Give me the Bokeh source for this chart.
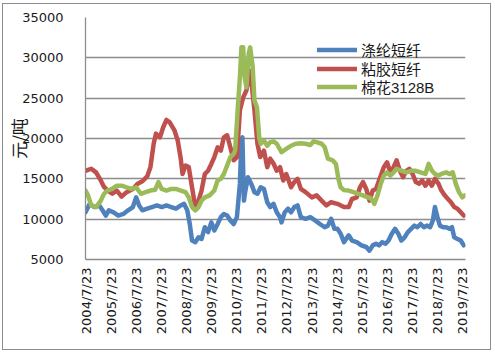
import math
from bokeh.plotting import figure
from bokeh.models import (Range1d, FixedTicker, Legend, LegendItem)
from bokeh.embed import file_html
from bokeh.resources import INLINE

# ---- data (decimal year, yuan/ton) ----
polyester_x = [2004.52, 2004.69, 2004.88, 2005.07, 2005.20, 2005.33, 2005.45, 2005.64, 2005.83, 2006.03,
               2006.22, 2006.41, 2006.54, 2006.66, 2006.79, 2006.98, 2007.17, 2007.37, 2007.56, 2007.75,
               2007.94, 2008.13, 2008.32, 2008.45, 2008.58, 2008.68, 2008.77, 2008.90, 2009.03, 2009.15,
               2009.28, 2009.41, 2009.54, 2009.66, 2009.79, 2009.92, 2010.04, 2010.17, 2010.30, 2010.43,
               2010.56, 2010.62, 2010.68, 2010.74, 2010.78, 2010.84, 2010.90, 2011.00, 2011.13, 2011.26,
               2011.38, 2011.51, 2011.64, 2011.77, 2011.89, 2012.02, 2012.15, 2012.28, 2012.34, 2012.47,
               2012.60, 2012.72, 2012.85, 2012.98, 2013.11, 2013.30, 2013.49, 2013.68, 2013.87, 2014.06,
               2014.19, 2014.32, 2014.45, 2014.57, 2014.70, 2014.83, 2015.02, 2015.15, 2015.34, 2015.53,
               2015.72, 2015.85, 2015.98, 2016.11, 2016.23, 2016.36, 2016.49, 2016.61, 2016.74, 2016.87,
               2017.00, 2017.12, 2017.25, 2017.38, 2017.51, 2017.64, 2017.76, 2017.89, 2018.02, 2018.15,
               2018.27, 2018.38, 2018.46, 2018.56, 2018.66, 2018.79, 2018.91, 2019.04, 2019.14, 2019.23,
               2019.36, 2019.49, 2019.61]
polyester_y = [10850, 11900, 11500, 11700, 11100, 10450, 11100, 10850, 10450, 10650,
               11100, 11500, 12700, 11700, 11100, 11300, 11500, 11700, 11500, 11700,
               11500, 11300, 11700, 11900, 11100, 9400, 7350, 7150, 7750, 7550,
               9000, 8400, 9600, 8600, 9400, 10250, 10650, 10450, 9850, 9400,
               10250, 12300, 14400, 19750, 20150, 12300, 13550, 15200, 14400, 13350,
               13150, 13950, 13750, 12100, 11500, 11900, 10850, 10250, 9600, 10850,
               11300, 10850, 11500, 11700, 10250, 10050, 10250, 9850, 9400, 9000,
               9200, 10050, 8800, 8800, 8200, 7150, 8000, 7350, 7150, 6750,
               6550, 6100, 6750, 6950, 6750, 7150, 6950, 7350, 8200, 8800,
               8200, 7350, 7750, 8400, 8800, 9200, 9000, 9400, 9000, 9200,
               9000, 9850, 11500, 10250, 9200, 9000, 9000, 8800, 9000, 7750,
               7550, 7350, 6750]

viscose_x = [2004.52, 2004.75, 2004.94, 2005.13, 2005.26, 2005.40, 2005.59, 2005.77, 2005.96, 2006.16,
             2006.41, 2006.60, 2006.79, 2006.98, 2007.11, 2007.24, 2007.33, 2007.49, 2007.62, 2007.75,
             2007.88, 2008.07, 2008.20, 2008.32, 2008.39, 2008.51, 2008.64, 2008.77, 2008.90, 2009.03,
             2009.15, 2009.28, 2009.41, 2009.54, 2009.66, 2009.79, 2009.92, 2010.04, 2010.17, 2010.30,
             2010.43, 2010.56, 2010.68, 2010.81, 2010.94, 2011.07, 2011.16, 2011.26, 2011.38, 2011.49,
             2011.64, 2011.77, 2011.89, 2012.02, 2012.15, 2012.28, 2012.41, 2012.53, 2012.72, 2012.85,
             2012.98, 2013.11, 2013.30, 2013.55, 2013.74, 2013.94, 2014.13, 2014.32, 2014.57, 2014.83,
             2015.02, 2015.15, 2015.34, 2015.47, 2015.59, 2015.72, 2015.85, 2015.98, 2016.11, 2016.23,
             2016.42, 2016.55, 2016.68, 2016.81, 2016.93, 2017.06, 2017.19, 2017.32, 2017.44, 2017.57,
             2017.70, 2017.83, 2017.95, 2018.08, 2018.21, 2018.34, 2018.46, 2018.60, 2018.72, 2018.85,
             2018.98, 2019.10, 2019.23, 2019.36, 2019.49, 2019.61]
viscose_y = [16000, 16250, 15800, 14800, 14000, 13550, 13150, 13550, 12800, 13350,
             13750, 14400, 14700, 15300, 16450, 19350, 20600, 20150, 21400, 22300,
             22000, 21000, 19750, 17500, 15600, 16650, 16450, 13950, 11500, 12300,
             13550, 15600, 16000, 16850, 17700, 18900, 18500, 20150, 20400, 18900,
             17300, 17700, 23500, 25100, 25950, 28400, 26400, 23500, 19350, 17700,
             18500, 16450, 17500, 16900, 16000, 16450, 14800, 15600, 13950, 14600,
             15000, 13750, 13350, 12700, 12950, 12300, 11700, 12100, 11900, 11500,
             11500, 12500, 12700, 13950, 14600, 13750, 12300, 13550, 13750, 14800,
             16450, 17050, 15800, 16450, 17300, 16000, 15200, 16000, 16250, 15600,
             14600, 14400, 14800, 14150, 14800, 14150, 15000, 14400, 13550, 12950,
             12500, 12100, 11500, 11300, 10850, 10450]

cotton_x = [2004.52, 2004.62, 2004.75, 2004.94, 2005.13, 2005.26, 2005.39, 2005.58, 2005.77, 2005.96,
            2006.16, 2006.35, 2006.54, 2006.73, 2006.92, 2007.11, 2007.30, 2007.43, 2007.56, 2007.75,
            2007.94, 2008.13, 2008.32, 2008.51, 2008.64, 2008.77, 2008.90, 2009.03, 2009.15, 2009.28,
            2009.47, 2009.66, 2009.79, 2009.92, 2010.04, 2010.17, 2010.30, 2010.43, 2010.49, 2010.59,
            2010.68, 2010.74, 2010.81, 2010.87, 2010.94, 2011.03, 2011.09, 2011.19, 2011.26, 2011.36,
            2011.45, 2011.51, 2011.64, 2011.77, 2011.89, 2012.02, 2012.15, 2012.34, 2012.53, 2012.72,
            2012.91, 2013.11, 2013.30, 2013.49, 2013.62, 2013.74, 2013.94, 2014.06, 2014.19, 2014.38,
            2014.51, 2014.61, 2014.70, 2014.83, 2015.02, 2015.21, 2015.40, 2015.59, 2015.78, 2015.85,
            2015.98, 2016.04, 2016.17, 2016.30, 2016.42, 2016.55, 2016.68, 2016.81, 2016.93, 2017.12,
            2017.32, 2017.51, 2017.70, 2017.89, 2018.08, 2018.21, 2018.34, 2018.46, 2018.60, 2018.72,
            2018.91, 2019.04, 2019.17, 2019.29, 2019.42, 2019.55, 2019.65]
cotton_y = [13550, 12950, 11700, 11500, 12300, 13150, 13550, 13750, 14150, 14150,
            13950, 13750, 13950, 13150, 13350, 13550, 13650, 14600, 13750, 13550,
            13750, 13750, 13550, 13350, 12700, 11500, 11100, 11500, 12300, 12700,
            12950, 13550, 14800, 15000, 15600, 16650, 17700, 18100, 18500, 23500,
            27600, 31300, 31300, 27600, 26350, 30500, 31300, 28850, 24700, 23900,
            20150, 19350, 19750, 19100, 19550, 19650, 19350, 18300, 18700, 19100,
            19350, 19400, 19350, 19200, 19650, 19550, 19350, 18950, 17500, 17300,
            16850, 15000, 13950, 13600, 13550, 13350, 13150, 12950, 12700, 12700,
            12300, 11900, 12950, 14400, 15400, 15800, 15400, 15800, 16250, 16000,
            15800, 16000, 16000, 15800, 15600, 16850, 16000, 15600, 15400, 15600,
            15800, 15600, 15800, 14400, 13350, 12700, 12950]

series_names = ["涤纶短纤", "粘胶短纤", "棉花3128B"]
tick_labels = ["2004/7/23", "2005/7/23", "2006/7/23", "2007/7/23", "2008/7/23", "2009/7/23",
               "2010/7/23", "2011/7/23", "2012/7/23", "2013/7/23", "2014/7/23", "2015/7/23",
               "2016/7/23", "2017/7/23", "2018/7/23", "2019/7/23"]
y_ticks = [5000, 10000, 15000, 20000, 25000, 30000, 35000]

colors = ["#4F81BD", "#C0504D", "#9BBB59"]
GRID = "#8C8C8C"
LATIN = "DejaVu Sans"
CJK = "Noto Sans CJK SC"
LEGEND_FONT = "Liberation Sans, Noto Sans CJK SC"


def label_to_year(s):
    y, m, d = (int(v) for v in s.split("/"))
    cum = [0, 31, 59, 90, 120, 151, 181, 212, 243, 273, 304, 334]
    return y + (cum[m - 1] + d - 1) / 365.0


tick_pos = [label_to_year(s) for s in tick_labels]

p = figure(width=489, height=347, output_backend="svg", toolbar_location=None,
           x_range=Range1d(2004.52, 2019.68), y_range=Range1d(5000, 35000),
           min_border_left=66, min_border_right=27, min_border_top=13, min_border_bottom=92,
           styles={"border": "1px solid #8C8C8C", "margin-left": "2px", "margin-top": "3px"})
p.outline_line_color = None
p.background_fill_color = "white"
p.border_fill_color = "white"

renderers = []
for xs, ys, c in [(polyester_x, polyester_y, colors[0]),
                  (viscose_x, viscose_y, colors[1]),
                  (cotton_x, cotton_y, colors[2])]:
    r = p.line(xs, ys, line_color=c, line_width=4.5, line_join="round", line_cap="round")
    renderers.append(r)

# axes
xa = p.xaxis[0]
xa.ticker = FixedTicker(ticks=tick_pos)
xa.major_label_overrides = {t: s for t, s in zip(tick_pos, tick_labels)}
xa.major_label_orientation = math.pi / 2
xa.major_label_text_font = LATIN
xa.major_label_text_font_size = "13px"
xa.major_label_text_color = "#1a1a1a"
xa.major_label_standoff = 2
xa.major_tick_line_color = None
xa.minor_tick_line_color = None
xa.axis_line_color = GRID
xa.axis_line_width = 1.3

ya = p.yaxis[0]
ya.ticker = FixedTicker(ticks=y_ticks)
ya.major_label_text_font = LATIN
ya.major_label_text_font_size = "13px"
ya.major_label_text_color = "#1a1a1a"
ya.major_label_standoff = 16
ya.major_tick_line_color = None
ya.minor_tick_line_color = None
ya.axis_line_color = GRID
ya.axis_line_width = 1.3
ya.axis_label = "元/吨"
ya.axis_label_text_font = CJK
ya.axis_label_text_font_size = "17px"
ya.axis_label_text_font_style = "normal"
ya.axis_label_text_color = "#1a1a1a"
ya.axis_label_standoff = -12

p.xgrid.grid_line_color = None
p.ygrid.ticker = FixedTicker(ticks=y_ticks)
p.ygrid.grid_line_color = GRID
p.ygrid.grid_line_width = 1.3

# one legend per entry so that the row spacing matches the original
legend_rows_y = [199, 180.5, 162]
for name, r, ly in zip(series_names, renderers, legend_rows_y):
    lg = Legend(items=[LegendItem(label=name, renderers=[r])],
                location=(232, ly), orientation="vertical",
                label_text_font=LEGEND_FONT, label_text_font_size="15px", label_text_color="#1a1a1a",
                glyph_width=40, glyph_height=17, label_height=17, label_standoff=4,
                spacing=0, padding=0, margin=0,
                background_fill_alpha=0, border_line_color=None)
    p.add_layout(lg, "center")

open("out.html", "w").write(file_html(p, INLINE))
